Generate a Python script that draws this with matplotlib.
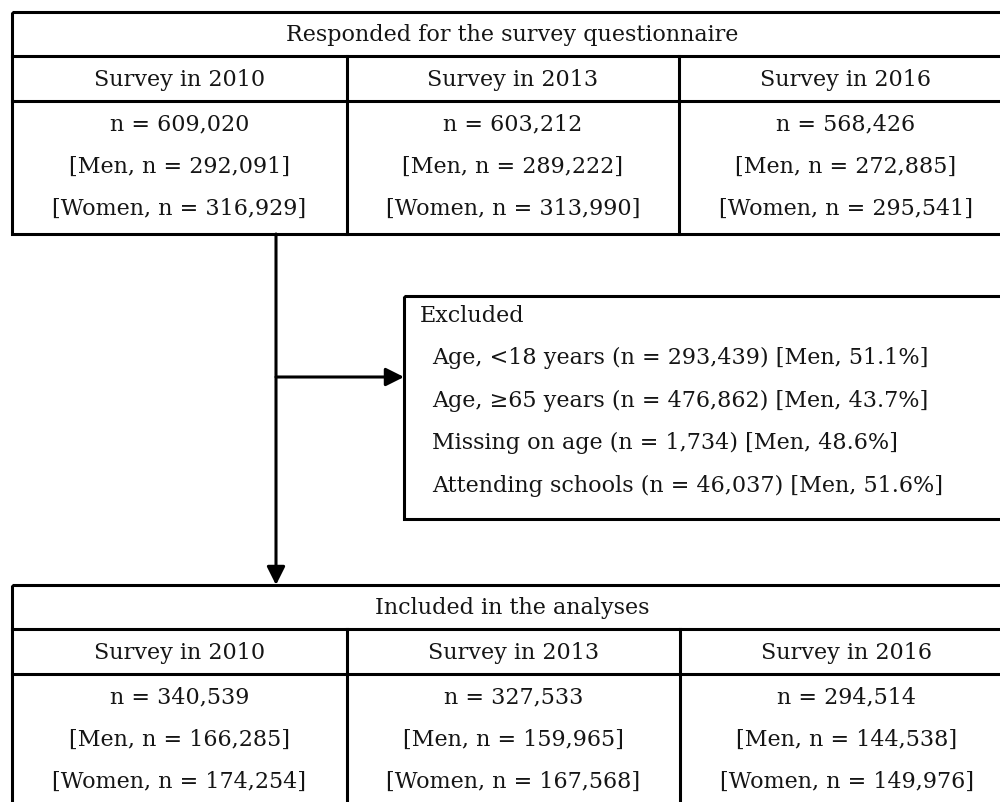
import matplotlib.pyplot as plt
from matplotlib.patches import Rectangle

# flowchart contents
surveys = ["Survey in 2010", "Survey in 2013", "Survey in 2016"]
responded_total = [609020, 603212, 568426]
responded_men = [292091, 289222, 272885]
responded_women = [316929, 313990, 295541]

excluded_labels = ["Age, <18 years", "Age, \u226565 years", "Missing on age", "Attending schools"]
excluded_n = [293439, 476862, 1734, 46037]
excluded_men_pct = [51.1, 43.7, 48.6, 51.6]

included_total = [340539, 327533, 294514]
included_men = [166285, 159965, 144538]
included_women = [174254, 167568, 149976]

FONT = "DejaVu Serif"
FS = 16
LW = 2.2
TXT = "#151515"

fig = plt.figure(figsize=(10, 8.03), dpi=100)
ax = fig.add_axes([0, 0, 1, 1])
ax.set_xlim(0, 1000)
ax.set_ylim(803, 0)
ax.axis("off")


def draw_table(top, title, totals, men, women, x0=12, x1=1013, cols=(347, 679), bottom=None):
    r1, r2 = top + 44, top + 89
    if bottom is None:
        bottom = top + 222
    ax.add_patch(Rectangle((x0, top), x1 - x0, bottom - top, fill=False, lw=LW, ec="black"))
    ax.plot([x0, x1], [r1, r1], color="black", lw=LW)
    ax.plot([x0, x1], [r2, r2], color="black", lw=LW)
    for c in cols:
        ax.plot([c, c], [r1, bottom], color="black", lw=LW)
    ax.text((x0 + x1) / 2, top + 22, title, ha="center", va="center",
            fontsize=FS, family=FONT, color=TXT)
    edges = [x0, cols[0], cols[1], x1]
    for i in range(3):
        cx = (edges[i] + edges[i + 1]) / 2
        ax.text(cx, top + 67, surveys[i], ha="center", va="center",
                fontsize=FS, family=FONT, color=TXT)
        ax.text(cx, top + 111, f"n = {totals[i]:,}", ha="center", va="center",
                fontsize=FS, family=FONT, color=TXT)
        ax.text(cx, top + 154, f"[Men, n = {men[i]:,}]", ha="center", va="center",
                fontsize=FS, family=FONT, color=TXT)
        ax.text(cx, top + 196, f"[Women, n = {women[i]:,}]", ha="center", va="center",
                fontsize=FS, family=FONT, color=TXT)


draw_table(13, "Responded for the survey questionnaire",
           responded_total, responded_men, responded_women)
draw_table(586, "Included in the analyses",
           included_total, included_men, included_women, cols=(347, 680), bottom=830)

# arrows
arrow = dict(arrowstyle="-|>,head_length=1.1,head_width=0.55", lw=LW, color="black",
             shrinkA=0, shrinkB=0, mutation_scale=10)
ax.annotate("", xy=(276, 586), xytext=(276, 235), arrowprops=arrow)
ax.annotate("", xy=(404, 378), xytext=(276, 378), arrowprops=arrow)

# excluded box
ax.add_patch(Rectangle((404, 297), 610, 223, fill=False, lw=LW, ec="black"))
ax.text(420, 316, "Excluded", ha="left", va="center", fontsize=FS, family=FONT, color=TXT)
for i, lab in enumerate(excluded_labels):
    ax.text(432, 358 + 42.5 * i,
            f"{lab} (n = {excluded_n[i]:,}) [Men, {excluded_men_pct[i]}%]",
            ha="left", va="center", fontsize=FS, family=FONT, color=TXT)

fig.savefig("out.png", dpi=100)
